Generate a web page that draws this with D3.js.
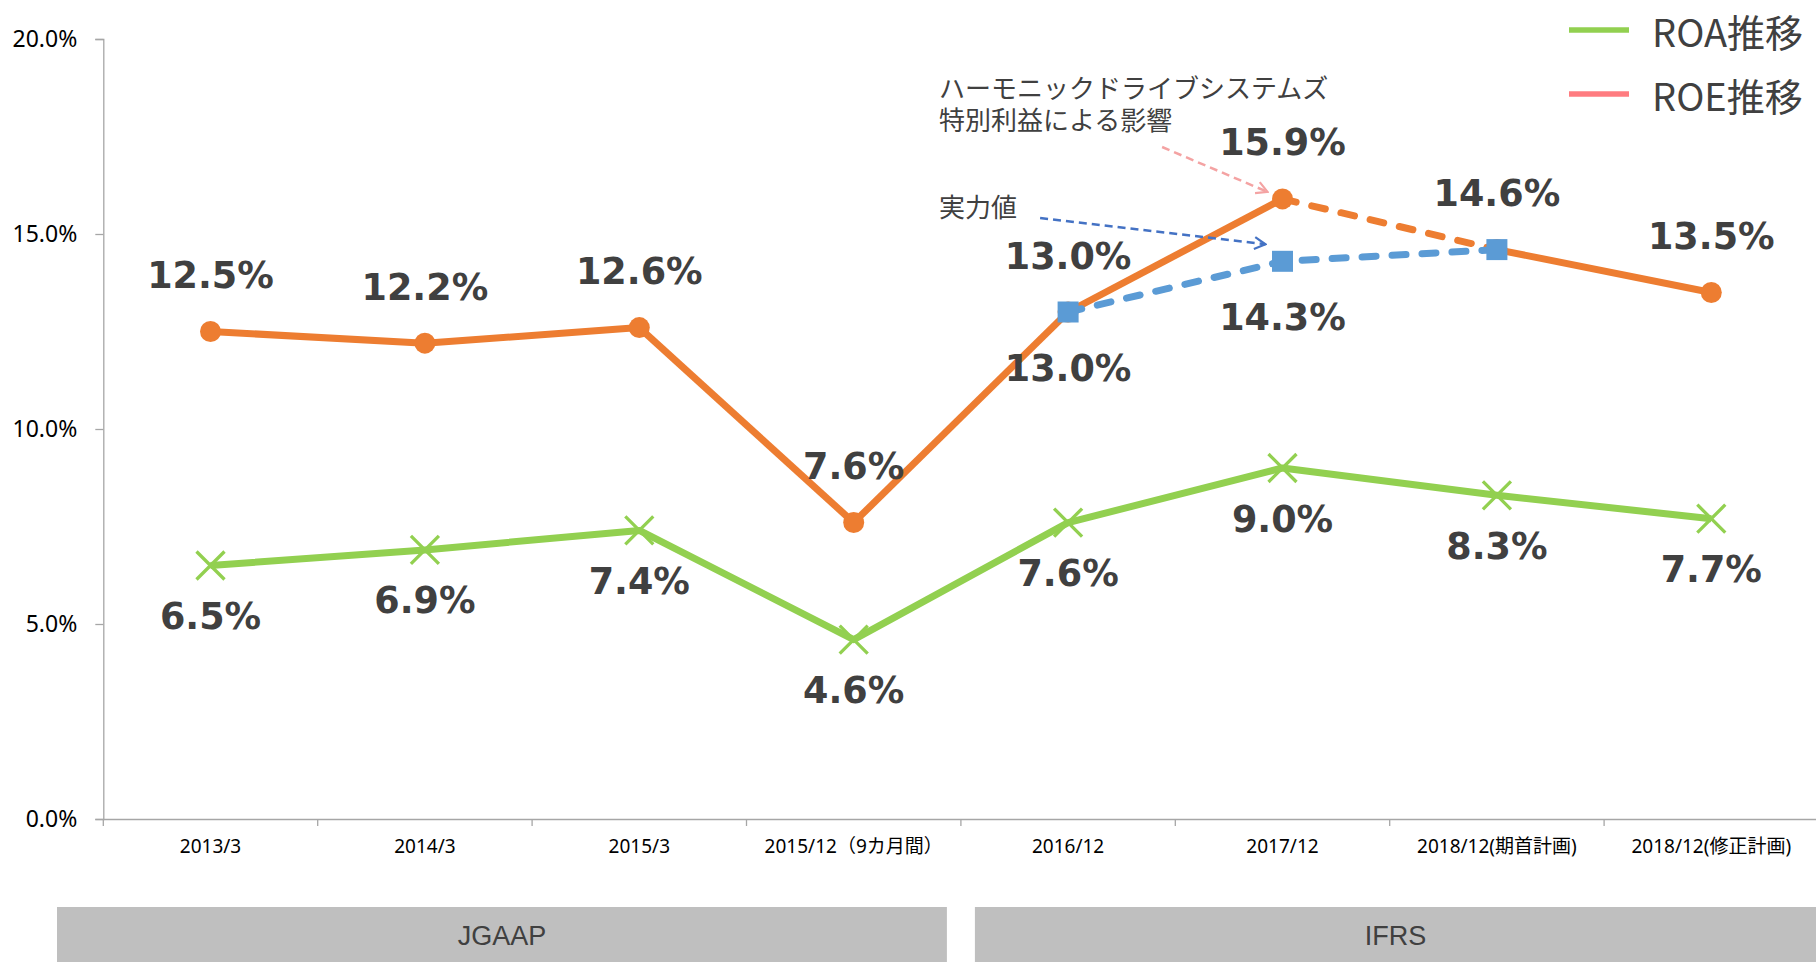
<!DOCTYPE html>
<html>
<head>
  <meta charset="utf-8">
  <title>ROA / ROE推移</title>
  <script src="https://d3js.org/d3.v7.min.js"></script>
  <style>
    body, html {
      margin: 0;
      padding: 0;
      width: 100%;
      height: 100%;
      overflow: hidden;
      background: #fff;
    }
    svg {
      display: block;
    }
    .tick-y text {
      font-family: "Noto Sans", "Liberation Sans", sans-serif;
      font-size: 23px;
      fill: #000;
    }
    .tick-x text {
      font-family: "Noto Sans", "Noto Sans CJK JP", sans-serif;
      font-size: 19px;
      fill: #000;
    }
    .val {
      font-family: "DejaVu Sans", sans-serif;
      font-weight: bold;
      font-size: 36.5px;
      fill: #404040;
    }
    .note {
      font-family: "Noto Sans CJK JP", sans-serif;
      font-size: 26px;
      fill: #404040;
    }
  </style>
</head>
<body>
  <svg id="chart" width="1816" height="962"></svg>

  <script>
    // data
    var categories = ["2013/3", "2014/3", "2015/3", "2015/12（9カ月間）", "2016/12", "2017/12", "2018/12(期首計画)", "2018/12(修正計画)"];
    var roa = [6.5, 6.9, 7.4, 4.6, 7.6, 9.0, 8.3, 7.7];
    var roe = [12.5, 12.2, 12.6, 7.6, 13.0, 15.9, 14.6, 13.5];
    var roeDashedSegments = [5];               // segment 2017/12 -> 2018/12(期首計画)
    var realIdx = [4, 5, 6];                   // 実力値
    var realVal = [13.0, 14.3, 14.6];
    var realLabelIdx = [0, 1];                 // which 実力値 points get a label
    var yTicks = [0, 5, 10, 15, 20];
    var groups = [
      { name: "JGAAP", from: 0, to: 3 },
      { name: "IFRS", from: 4, to: 7 }
    ];
    var noteLines = ["ハーモニックドライブシステムズ", "特別利益による影響"];
    var legendItems = ["ROA推移", "ROE推移"];
    var legendColors = ["#92D050", "#FF7C80"];

    var svg = d3.select("#chart");

    var xScale = d3.scaleBand()
      .domain(categories)
      .range([103.3, 1818.5])
      .padding(0);
    var yScale = d3.scaleLinear()
      .domain([0, 20])
      .range([819, 39]);

    function cx(i) { return xScale(categories[i]) + xScale.bandwidth() / 2; }

    // y axis
    svg.append("g")
      .attr("class", "tick-y")
      .attr("transform", "translate(103.3,0)")
      .call(d3.axisLeft(yScale)
        .tickValues(yTicks)
        .tickSize(8)
        .tickPadding(18)
        .tickFormat(function(d) { return d.toFixed(1) + "%"; }))
      .call(function(g) {
        g.select(".domain").attr("stroke", "#A6A6A6").attr("stroke-width", 1.3);
        g.selectAll(".tick line").attr("stroke", "#A6A6A6").attr("stroke-width", 1.3);
      });

    // x axis, ticks on category boundaries
    var xAxisG = svg.append("g")
      .attr("class", "tick-x")
      .attr("transform", "translate(0,819)");
    xAxisG.call(d3.axisBottom(xScale).tickSize(0).tickPadding(21))
      .call(function(g) {
        g.select(".domain").attr("stroke", "#A6A6A6").attr("stroke-width", 1.3);
      });
    xAxisG.selectAll(".bound")
      .data(d3.range(categories.length + 1))
      .join("line")
      .attr("class", "bound")
      .attr("x1", function(i) { return 103.3 + i * xScale.bandwidth(); })
      .attr("x2", function(i) { return 103.3 + i * xScale.bandwidth(); })
      .attr("y1", 0)
      .attr("y2", 7)
      .attr("stroke", "#A6A6A6")
      .attr("stroke-width", 1.3);

    // JGAAP / IFRS bars
    function groupLeft(d) { return d.from === 0 ? 57 : xScale(categories[d.from]) + 14; }
    function groupRight(d) { return d.to === categories.length - 1 ? 1816 : xScale(categories[d.to]) + xScale.bandwidth() - 14; }

    var grp = svg.append("g");
    grp.selectAll("rect")
      .data(groups)
      .join("rect")
      .attr("x", groupLeft)
      .attr("width", function(d) { return groupRight(d) - groupLeft(d); })
      .attr("y", 907)
      .attr("height", 55)
      .attr("fill", "#BFBFBF");
    grp.selectAll("text")
      .data(groups)
      .join("text")
      .attr("x", function(d) { return (groupLeft(d) + groupRight(d)) / 2; })
      .attr("y", 945)
      .attr("text-anchor", "middle")
      .style("font-family", "'Liberation Sans', Arial, sans-serif")
      .style("font-size", "27px")
      .style("fill", "#404040")
      .text(function(d) { return d.name; });

    // ROA line (green, X markers)
    var line = d3.line()
      .x(function(d) { return cx(d[0]); })
      .y(function(d) { return yScale(d[1]); });

    svg.append("path")
      .datum(roa.map(function(v, i) { return [i, v]; }))
      .attr("d", line)
      .attr("fill", "none")
      .attr("stroke", "#92D050")
      .attr("stroke-width", 7)
      .attr("stroke-linejoin", "round");

    svg.selectAll(".xmark")
      .data(roa)
      .join("path")
      .attr("class", "xmark")
      .attr("transform", function(d, i) { return "translate(" + cx(i) + "," + yScale(d) + ")"; })
      .attr("d", "M-14,-14L14,14M-14,14L14,-14")
      .attr("stroke", "#92D050")
      .attr("stroke-width", 3.3);

    // ROE line, segment by segment
    var roeSegs = d3.range(roe.length - 1).map(function(i) {
      return { pts: [[i, roe[i]], [i + 1, roe[i + 1]]], dashed: roeDashedSegments.indexOf(i) >= 0 };
    });
    svg.selectAll(".roeseg")
      .data(roeSegs)
      .join("path")
      .attr("class", "roeseg")
      .attr("d", function(d) { return line(d.pts); })
      .attr("fill", "none")
      .attr("stroke", "#ED7D31")
      .attr("stroke-width", 7)
      .attr("stroke-linecap", function(d) { return d.dashed ? "round" : "butt"; })
      .attr("stroke-dasharray", function(d) { return d.dashed ? "14,16" : null; });

    svg.selectAll(".roedot")
      .data(roe)
      .join("circle")
      .attr("class", "roedot")
      .attr("cx", function(d, i) { return cx(i); })
      .attr("cy", function(d) { return yScale(d); })
      .attr("r", 10.5)
      .attr("fill", "#ED7D31");

    // 実力値 line (blue dashed, squares)
    var realPts = realIdx.map(function(idx, k) { return [idx, realVal[k]]; });
    svg.append("path")
      .datum(realPts)
      .attr("d", line)
      .attr("fill", "none")
      .attr("stroke", "#5B9BD5")
      .attr("stroke-width", 7)
      .attr("stroke-linecap", "round")
      .attr("stroke-dasharray", "14,16");

    svg.selectAll(".realsq")
      .data(realPts)
      .join("rect")
      .attr("class", "realsq")
      .attr("x", function(d) { return cx(d[0]) - 10.5; })
      .attr("y", function(d) { return yScale(d[1]) - 10.5; })
      .attr("width", 21)
      .attr("height", 21)
      .attr("fill", "#5B9BD5");

    // value labels
    function pct(v) { return v.toFixed(1) + "%"; }

    svg.selectAll(".roeval")
      .data(roe)
      .join("text")
      .attr("class", "val roeval")
      .attr("x", function(d, i) { return cx(i); })
      .attr("y", function(d) { return yScale(d) - 56; })
      .attr("text-anchor", "middle")
      .attr("dominant-baseline", "central")
      .text(pct);

    svg.selectAll(".roaval")
      .data(roa)
      .join("text")
      .attr("class", "val roaval")
      .attr("x", function(d, i) { return cx(i); })
      .attr("y", function(d) { return yScale(d) + 51; })
      .attr("text-anchor", "middle")
      .attr("dominant-baseline", "central")
      .text(pct);

    svg.selectAll(".realval")
      .data(realLabelIdx.map(function(k) { return realPts[k]; }))
      .join("text")
      .attr("class", "val realval")
      .attr("x", function(d) { return cx(d[0]); })
      .attr("y", function(d) { return yScale(d[1]) + 56; })
      .attr("text-anchor", "middle")
      .attr("dominant-baseline", "central")
      .text(function(d) { return pct(d[1]); });

    // annotations
    var defs = svg.append("defs");
    [["arPink", "#F4A3A3"], ["arBlue", "#4472C4"]].forEach(function(a) {
      defs.append("marker")
        .attr("id", a[0])
        .attr("viewBox", "-12 -8 14 16")
        .attr("refX", 0)
        .attr("refY", 0)
        .attr("markerWidth", 14)
        .attr("markerHeight", 16)
        .attr("markerUnits", "userSpaceOnUse")
        .attr("orient", "auto")
        .append("path")
        .attr("d", "M-11,-6L0,0L-11,6")
        .attr("fill", "none")
        .attr("stroke", a[1])
        .attr("stroke-width", 2.2);
    });

    var noteX = cx(4) - 129;
    svg.selectAll(".noteline")
      .data(noteLines)
      .join("text")
      .attr("class", "note noteline")
      .attr("x", noteX)
      .attr("y", function(d, i) { return 86 + i * 32; })
      .attr("dominant-baseline", "central")
      .text(function(d) { return d; });

    svg.append("text")
      .attr("class", "note")
      .attr("x", noteX)
      .attr("y", 205)
      .attr("dominant-baseline", "central")
      .text("実力値");

    svg.append("line")
      .attr("x1", noteX + 223)
      .attr("y1", 147)
      .attr("x2", cx(5) - 15)
      .attr("y2", yScale(roe[5]) - 7)
      .attr("stroke", "#F4A3A3")
      .attr("stroke-width", 2.5)
      .attr("stroke-dasharray", "8,5")
      .attr("marker-end", "url(#arPink)");

    svg.append("line")
      .attr("x1", noteX + 101)
      .attr("y1", 218)
      .attr("x2", cx(5) - 17)
      .attr("y2", yScale(realVal[1]) - 17)
      .attr("stroke", "#4472C4")
      .attr("stroke-width", 2.5)
      .attr("stroke-dasharray", "8,5")
      .attr("marker-end", "url(#arBlue)");

    // legend
    var legend = svg.append("g").attr("transform", "translate(1569,30)");
    var li = legend.selectAll("g")
      .data(legendItems)
      .join("g")
      .attr("transform", function(d, i) { return "translate(0," + (i * 64) + ")"; });
    li.append("line")
      .attr("x1", 0)
      .attr("x2", 60)
      .attr("stroke", function(d, i) { return legendColors[i]; })
      .attr("stroke-width", 5.5);
    li.append("text")
      .attr("x", 83)
      .attr("dominant-baseline", "central")
      .style("font-family", "'Noto Sans CJK JP', sans-serif")
      .style("font-size", "38px")
      .style("fill", "#404040")
      .text(function(d) { return d; });
  </script>
</body>
</html>
